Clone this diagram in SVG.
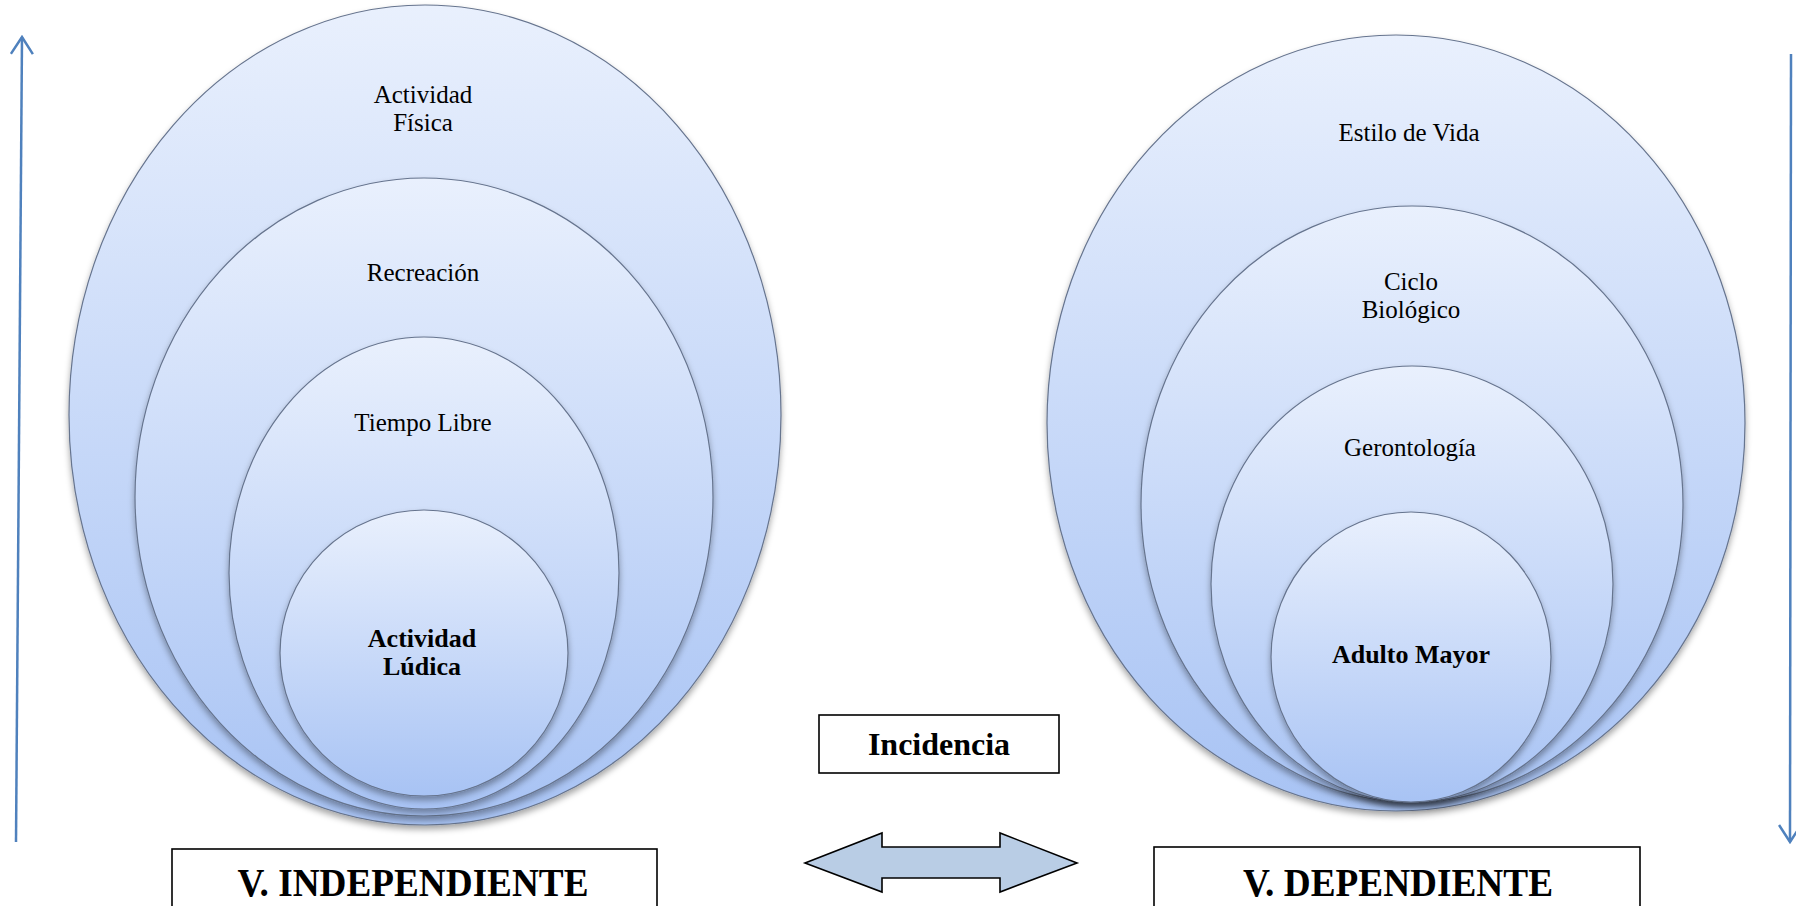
<svg xmlns="http://www.w3.org/2000/svg" width="1796" height="906" viewBox="0 0 1796 906">
<defs>
<linearGradient id="g" x1="0" y1="0" x2="0" y2="1">
<stop offset="0" stop-color="#e9f0fd"/>
<stop offset="1" stop-color="#a8c3f4"/>
</linearGradient>
<filter id="sh" x="-10%" y="-10%" width="120%" height="125%">
<feDropShadow dx="0" dy="4" stdDeviation="3" flood-color="#000" flood-opacity="0.35"/>
</filter>
<marker id="ah" viewBox="0 0 20 24" refX="18" refY="12" markerWidth="20" markerHeight="24" markerUnits="userSpaceOnUse" orient="auto">
<path d="M1,1 L18,12 L1,23" fill="none" stroke="#4f81bd" stroke-width="2.5"/>
</marker>
</defs>
<style>
.e{fill:url(#g);stroke:#66748e;stroke-width:1.2;filter:url(#sh)}
.t{font-family:"Liberation Serif","Times New Roman",serif;font-size:25px;fill:#000;text-anchor:middle}
.b{font-weight:bold;font-size:26px}
.box{fill:#fff;stroke:#000;stroke-width:1.6}
.big{font-family:"Liberation Serif","Times New Roman",serif;font-weight:bold;font-size:40px;text-anchor:middle}
.ax{stroke:#4f81bd;stroke-width:2.5;fill:none}
</style>
<rect width="1796" height="906" fill="#fff"/>
<g id="connectors">
<line class="ax" x1="16" y1="842" x2="22" y2="37" marker-end="url(#ah)"/>
<line class="ax" x1="1791" y1="54" x2="1790" y2="842" marker-end="url(#ah)"/>
<polygon id="double-arrow" points="805,863 882,833 882,847 1000,847 1000,833 1077,863 1000,892 1000,878 882,878 882,892" fill="#b9cde5" stroke="#000" stroke-width="1.6"/>
</g>
<g id="actividad-fisica">
<ellipse class="e" cx="425" cy="415" rx="356" ry="410"/>
<text class="t" x="423" y="103">Actividad</text>
<text class="t" x="423" y="131">Física</text>
</g>
<g id="recreacion">
<ellipse class="e" cx="424" cy="497" rx="289" ry="319"/>
<text class="t" x="423" y="281">Recreación</text>
</g>
<g id="tiempo-libre">
<ellipse class="e" cx="424" cy="573" rx="195" ry="236"/>
<text class="t" x="423" y="431">Tiempo Libre</text>
</g>
<g id="actividad-ludica">
<ellipse class="e" cx="424" cy="653" rx="144" ry="143"/>
<text class="t b" x="422" y="647">Actividad</text>
<text class="t b" x="422" y="675">Lúdica</text>
</g>
<g id="estilo-de-vida">
<ellipse class="e" cx="1396" cy="423" rx="349" ry="388"/>
<text class="t" x="1409" y="141">Estilo de Vida</text>
</g>
<g id="ciclo-biologico">
<ellipse class="e" cx="1412" cy="504" rx="271" ry="298"/>
<text class="t" x="1411" y="290">Ciclo</text>
<text class="t" x="1411" y="318">Biológico</text>
</g>
<g id="gerontologia">
<ellipse class="e" cx="1412" cy="584" rx="201" ry="218"/>
<text class="t" x="1410" y="456">Gerontología</text>
</g>
<g id="adulto-mayor">
<ellipse class="e" cx="1411" cy="657" rx="140" ry="145"/>
<text class="t b" x="1411" y="663">Adulto Mayor</text>
</g>
<g id="incidencia">
<rect class="box" x="819" y="715" width="240" height="58"/>
<text class="big" x="939" y="755" style="font-size:32px">Incidencia</text>
</g>
<g id="v-independiente">
<rect class="box" x="172" y="849" width="485" height="70"/>
<text class="big" x="413" y="896" textLength="351" lengthAdjust="spacingAndGlyphs">V. INDEPENDIENTE</text>
</g>
<g id="v-dependiente">
<rect class="box" x="1154" y="847" width="486" height="72"/>
<text class="big" x="1398" y="896" textLength="310" lengthAdjust="spacingAndGlyphs">V. DEPENDIENTE</text>
</g>
</svg>
